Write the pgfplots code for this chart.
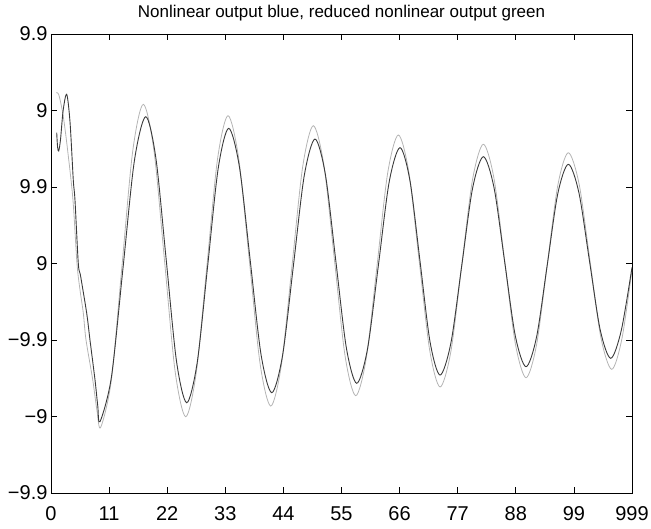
\documentclass[border=0pt]{standalone}
\usepackage{fontspec}
\setmainfont{Liberation Sans}
\usepackage{pgfplots}
\pgfplotsset{compat=1.18}
\definecolor{darkline}{HTML}{3A3A3A}
\definecolor{lightline}{HTML}{B4B4B4}
\begin{document}
\begin{tikzpicture}
\begin{axis}[
  name=ax,
  scale only axis,
  width=581pt, height=459pt,
  xmin=0, xmax=110, ymin=-3, ymax=3,
  xtick={0,11,22,33,44,55,66,77,88,99,110},
  xticklabels={0,11,22,33,44,55,66,77,88,99,999},
  ytick={-3,-2,-1,0,1,2,3},
  yticklabels={−9.9,−9,−9.9,9,9.9,9,9.9},
  /pgf/number format/assume math mode=true,
  tick label style={font=\fontsize{20}{20}\selectfont},
  tick align=inside, tick pos=both,
  major tick length=6pt,
  axis line style={black, line width=0.9pt},
  tick style={black, line width=0.8pt},
  title={Nonlinear output blue, reduced nonlinear output green},
  title style={font=\fontsize{17}{17}\selectfont, at={(0.5,1)}, anchor=south, yshift=3pt},
  xticklabel style={yshift=-10pt},
]
% reduced nonlinear output (light)
\addplot[lightline, line width=0.8pt, smooth, tension=0.5] coordinates {
(0.95,2.233)(1.5,2.2)(2.33,1.92)(3.2,1.45)(4.16,0.83)(4.92,0.0)(5.5,-0.35)(6.12,-0.65)(6.63,-1.0)(7.9,-1.52)(8.7,-1.92)(9.41,-2.141)
(11.43,-1.523)(13.44,-0.030)(15.46,1.463)(17.47,2.081)
(19.48,1.483)(21.49,0.039)(23.49,-1.405)(25.50,-2.003)
(27.50,-1.427)(29.51,-0.036)(31.51,1.356)(33.51,1.932)
(35.53,1.376)(37.56,0.035)(39.58,-1.307)(41.60,-1.863)
(43.62,-1.326)(45.63,-0.031)(47.65,1.264)(49.66,1.801)
(51.67,1.284)(53.68,0.037)(55.68,-1.210)(57.69,-1.728)
(59.71,-1.229)(61.73,-0.024)(63.74,1.181)(65.76,1.680)
(67.74,1.197)(69.71,0.033)(71.69,-1.131)(73.66,-1.614)
(75.71,-1.150)(77.76,-0.028)(79.80,1.094)(81.85,1.559)
(83.87,1.112)(85.89,0.033)(87.91,-1.046)(89.93,-1.493)
(91.93,-1.063)(93.94,-0.023)(95.94,1.017)(97.94,1.448)
(100.00,1.034)(102.05,0.033)(104.11,-0.968)(106.16,-1.383)
(108.1,-0.98)(110,-0.08)
};
% nonlinear output (dark)
\addplot[darkline, line width=0.9pt, smooth, tension=0.5] coordinates {
(1.08,1.71)(1.25,1.52)(1.46,1.47)(1.8,1.62)(2.3,2.0)(2.97,2.212)(3.6,1.85)(4.22,1.09)(4.54,0.83)(5.17,0.0)(5.62,-0.17)(6.76,-0.65)(7.38,-1.0)(8.33,-1.52)(8.85,-1.86)(9.28,-2.068)
(11.44,-1.484)(13.61,-0.075)(15.77,1.335)(17.93,1.919)
(19.87,1.371)(21.81,0.050)(23.75,-1.272)(25.69,-1.820)
(27.68,-1.295)(29.67,-0.027)(31.65,1.241)(33.64,1.767)
(35.68,1.261)(37.72,0.039)(39.75,-1.183)(41.79,-1.689)
(43.84,-1.203)(45.89,-0.031)(47.93,1.141)(49.98,1.627)
(51.96,1.159)(53.93,0.031)(55.91,-1.098)(57.88,-1.566)
(59.93,-1.115)(61.98,-0.026)(64.02,1.063)(66.07,1.514)
(67.97,1.079)(69.87,0.028)(71.76,-1.023)(73.66,-1.458)
(75.71,-1.040)(77.76,-0.031)(79.80,0.978)(81.85,1.396)
(83.87,0.994)(85.89,0.024)(87.91,-0.947)(89.93,-1.349)
(91.93,-0.961)(93.94,-0.026)(95.94,0.909)(97.94,1.297)
(99.95,0.925)(101.96,0.029)(103.98,-0.867)(105.97,-1.239)
(107.97,-0.875)(110,-0.05)
};
\end{axis}
\pgfresetboundingbox
\path ([xshift=-51pt,yshift=-35pt]ax.south west) rectangle ([xshift=19pt,yshift=34pt]ax.north east);
\end{tikzpicture}
\end{document}
